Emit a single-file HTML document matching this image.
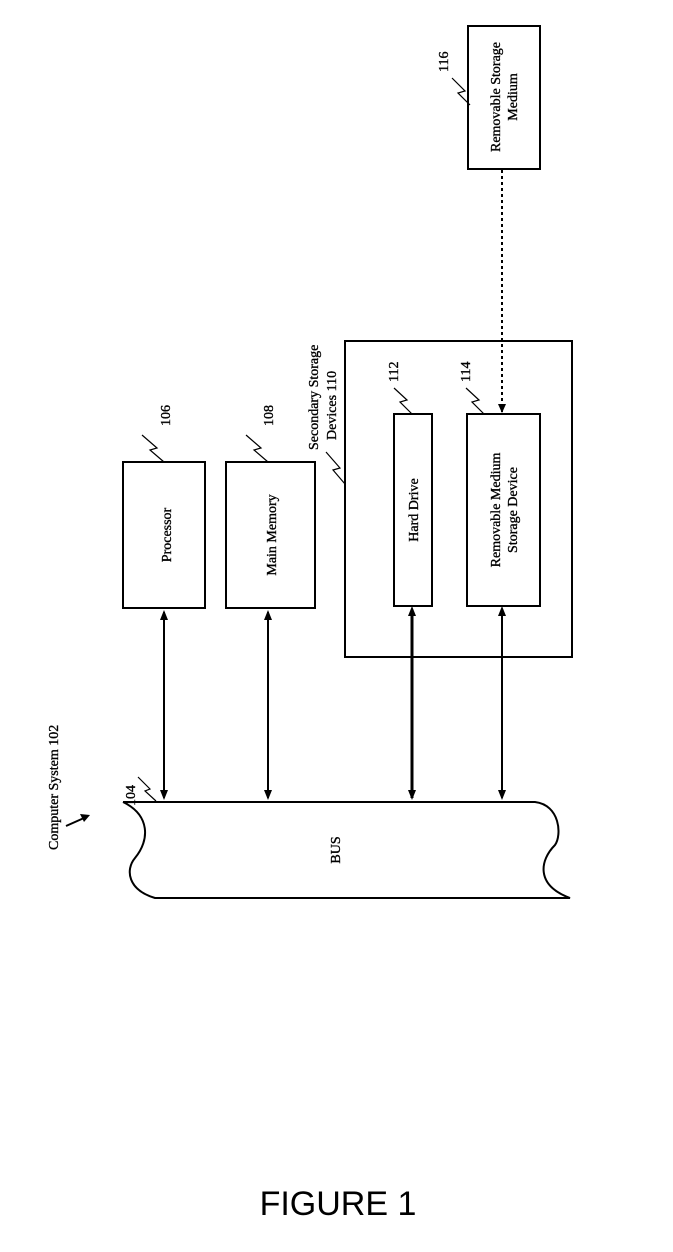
<!DOCTYPE html>
<html><head><style>
html,body{margin:0;padding:0;background:#fff;}
svg{display:block;}
text{font-family:"Liberation Serif",serif;fill:#000;}
.l text{stroke:#000;stroke-width:0.35;}
</style></head><body>
<svg width="673" height="1252" viewBox="0 0 673 1252" xmlns="http://www.w3.org/2000/svg">
<g stroke="#000" stroke-width="2" fill="none">
<rect x="123" y="462" width="82" height="146"/>
<rect x="226" y="462" width="89" height="146"/>
<rect x="345" y="341" width="227" height="316"/>
<rect x="394" y="414" width="38" height="192"/>
<rect x="467" y="414" width="73" height="192"/>
<rect x="468" y="26" width="72" height="143"/>
<line x1="502" y1="170" x2="502" y2="412" stroke-dasharray="3,3"/>
<path d="M123 802 L535 802 C560 805 562 835 555 845 C540 860 535 885 570 898 L155 898 C128 890 125 870 135 858 C150 840 150 815 123 802"/>
<line x1="164" y1="612" x2="164" y2="798"/>
<line x1="268" y1="612" x2="268" y2="798"/>
<line x1="412" y1="610" x2="412" y2="798" stroke-width="3"/>
<line x1="502" y1="610" x2="502" y2="798"/>
<path d="M66 826 L84 818" stroke-width="2"/>
<path d="M156 801 L145 791 L150 789 L138 777" stroke-width="1.2"/>
<path d="M164 462 L150 450 L157 448 L142 435" stroke-width="1.2"/>
<path d="M268 462 L254 450 L261 448 L246 435" stroke-width="1.2"/>
<path d="M345 484 L333 470 L340 468 L326 452" stroke-width="1.2"/>
<path d="M412 414 L400 402 L407 400 L394 388" stroke-width="1.2"/>
<path d="M484 414 L472 402 L479 400 L466 388" stroke-width="1.2"/>
<path d="M470 105 L458 93 L465 91 L452 78" stroke-width="1.2"/>
</g>
<g fill="#000">
<path d="M160 620 L164 610 L168 620Z M160 790 L164 800 L168 790Z"/>
<path d="M264 620 L268 610 L272 620Z M264 790 L268 800 L272 790Z"/>
<path d="M408 616 L412 606 L416 616Z M408 790 L412 800 L416 790Z"/>
<path d="M498 616 L502 606 L506 616Z M498 790 L502 800 L506 790Z"/>
<path d="M498 404 L502 413 L506 404Z"/>
<path d="M90 815 L80 814 L84 822Z"/>
</g>
<g font-size="14" class="l">
<text transform="translate(58,850) rotate(-90)">Computer System 102</text>
<text transform="translate(135,806) rotate(-90)">104</text>
<text transform="translate(170,426) rotate(-90)">106</text>
<text transform="translate(273,426) rotate(-90)">108</text>
<text transform="translate(171,535) rotate(-90)" text-anchor="middle">Processor</text>
<text transform="translate(276,535) rotate(-90)" text-anchor="middle">Main Memory</text>
<text transform="translate(318,450) rotate(-90)">Secondary Storage</text>
<text transform="translate(336,440) rotate(-90)">Devices 110</text>
<text transform="translate(398,382) rotate(-90)">112</text>
<text transform="translate(470,382) rotate(-90)">114</text>
<text transform="translate(448,72) rotate(-90)">116</text>
<text transform="translate(418,510) rotate(-90)" text-anchor="middle">Hard Drive</text>
<text transform="translate(500,510) rotate(-90)" text-anchor="middle">Removable Medium</text>
<text transform="translate(517,510) rotate(-90)" text-anchor="middle">Storage Device</text>
<text transform="translate(500,97) rotate(-90)" text-anchor="middle">Removable Storage</text>
<text transform="translate(517,97) rotate(-90)" text-anchor="middle">Medium</text>
<text transform="translate(340,850) rotate(-90)" text-anchor="middle">BUS</text>
</g>
<text x="338" y="1215" font-size="34" text-anchor="middle" style="font-family:'Liberation Sans',sans-serif">FIGURE 1</text>
</svg>
</body></html>
